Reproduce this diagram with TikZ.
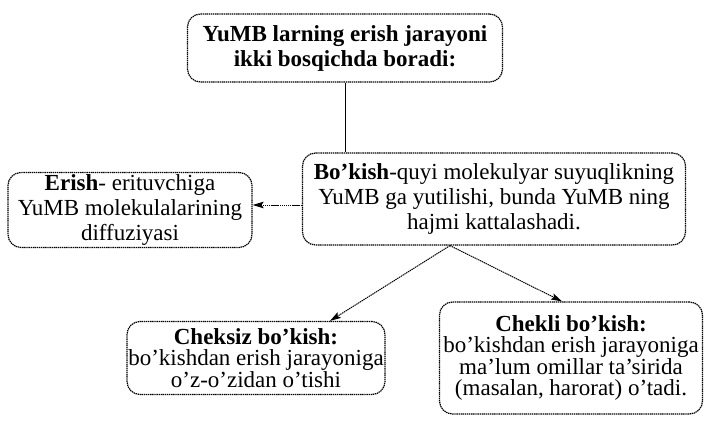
\documentclass[tikz,border=0pt]{standalone}
\usepackage{fontspec}
\setmainfont{Liberation Serif}
\usetikzlibrary{arrows.meta,calc}
\begin{document}
\begin{tikzpicture}[x=1pt,y=-1pt,
  box/.style={draw, dash pattern=on 1.4pt off 0.7pt, line width=1.2pt, rounded corners=13pt, align=center, inner xsep=0pt, inner ysep=2pt, font=\fontsize{23}{25}\selectfont},
  lowbox/.style={box, font=\fontsize{23}{21.5}\selectfont},
  conn/.style={dash pattern=on 1.4pt off 0.7pt, line width=1pt, -{Stealth[length=11pt,width=6.5pt,inset=2pt]}},
  plain/.style={line width=0.8pt}]
\useasboundingbox (0,0) rectangle (706,422);
\node[box, minimum width=315pt, minimum height=68pt] (top) at (345,48)
  {\textbf{YuMB larning erish jarayoni}\\\textbf{ikki bosqichda boradi:}};
\node[box, minimum width=383pt, minimum height=92pt] (mid) at (494,199)
  {\textbf{Bo'kish}-quyi molekulyar suyuqlikning\\YuMB ga yutilishi, bunda YuMB ning\\hajmi kattalashadi.};
\node[box, minimum width=244pt, minimum height=75pt] (left) at (130,210)
  {\textbf{Erish}- erituvchiga\\YuMB molekulalarining\\diffuziyasi};
\node[lowbox, minimum width=258pt, minimum height=73pt] (chz) at (256,358)
  {\textbf{Cheksiz bo'kish:}\\bo'kishdan erish jarayoniga\\o'z-o'zidan o'tishi};
\node[lowbox, minimum width=263pt, minimum height=112pt] (chl) at (571,358)
  {\textbf{Chekli bo'kish:}\\bo'kishdan erish jarayoniga\\ma'lum omillar ta'sirida\\(masalan, harorat) o'tadi.};
\draw[plain] (top.south) -- (top.south |- mid.north);
\draw[conn] ([yshift=-6pt]mid.west) -- ([yshift=5pt]left.east);
\coordinate (fork) at ($(mid.south)+(-44,0)$);
\draw[conn] (fork) -- ($(chz.north)+(74,0)$);
\draw[conn] (fork) -- ($(chl.north)+(-9,0)$);
\end{tikzpicture}
\end{document}
